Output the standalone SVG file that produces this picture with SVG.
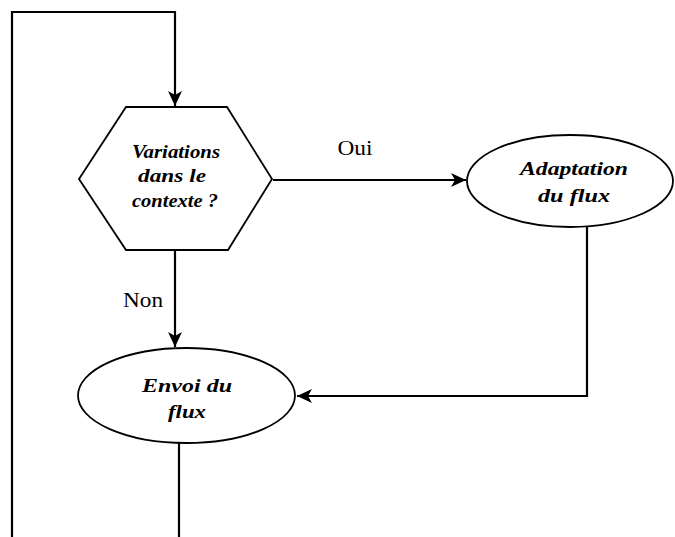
<svg xmlns="http://www.w3.org/2000/svg" width="675" height="537" viewBox="0 0 675 537">
  <style>
    .shape { fill: #ffffff; stroke: #000000; stroke-width: 1.8; }
    .line { fill: none; stroke: #000000; stroke-width: 2.2; }
    .node-text { font-family: "Liberation Serif", Tinos, serif; font-size: 19px; font-weight: 700; font-style: italic; fill: #000000; text-anchor: middle; }
    .label { font-family: "Liberation Serif", Tinos, serif; font-size: 20px; fill: #000000; text-anchor: middle; }
  </style>
  <defs>
    <marker id="arrow" markerUnits="userSpaceOnUse" markerWidth="16" markerHeight="14" refX="15" refY="7" orient="auto">
      <path d="M0,0 L15,7 L0,14 L4,7 Z" fill="#000000"/>
    </marker>
  </defs>
  <rect width="675" height="537" fill="#ffffff"/>

  <g id="connectors">
    <!-- loop back from the bottom to the decision -->
    <path class="line" d="M12,537 L12,12 L175,12 L175,106" marker-end="url(#arrow)"/>
    <!-- yes branch -->
    <path class="line" d="M273,180 L466,180" marker-end="url(#arrow)"/>
    <!-- no branch -->
    <path class="line" d="M175,250 L175,347" marker-end="url(#arrow)"/>
    <!-- adapted stream back to sending -->
    <path class="line" d="M587,227 L587,396 L297,396" marker-end="url(#arrow)"/>
    <!-- exit below sending -->
    <path class="line" d="M179,443 L179,537"/>
    <text class="label" x="355" y="155" textLength="35" lengthAdjust="spacingAndGlyphs">Oui</text>
    <text class="label" x="143" y="307" textLength="40" lengthAdjust="spacingAndGlyphs">Non</text>
  </g>

  <g id="decision">
    <polygon class="shape" points="126,107 227,107 272,179 228,250 126,250 79,179"/>
    <text class="node-text" x="176" y="158" textLength="88" lengthAdjust="spacingAndGlyphs">Variations</text>
    <text class="node-text" x="172" y="182" textLength="68" lengthAdjust="spacingAndGlyphs">dans le</text>
    <text class="node-text" x="175" y="207" textLength="86" lengthAdjust="spacingAndGlyphs">contexte ?</text>
  </g>

  <g id="adaptation">
    <ellipse class="shape" cx="570" cy="181" rx="103" ry="46"/>
    <text class="node-text" x="574" y="175" textLength="108" lengthAdjust="spacingAndGlyphs">Adaptation</text>
    <text class="node-text" x="574" y="202" textLength="72" lengthAdjust="spacingAndGlyphs">du flux</text>
  </g>

  <g id="envoi">
    <ellipse class="shape" cx="186.5" cy="395.5" rx="108.5" ry="47.5"/>
    <text class="node-text" x="187" y="392" textLength="90" lengthAdjust="spacingAndGlyphs">Envoi du</text>
    <text class="node-text" x="187" y="418" textLength="38" lengthAdjust="spacingAndGlyphs">flux</text>
  </g>
</svg>
